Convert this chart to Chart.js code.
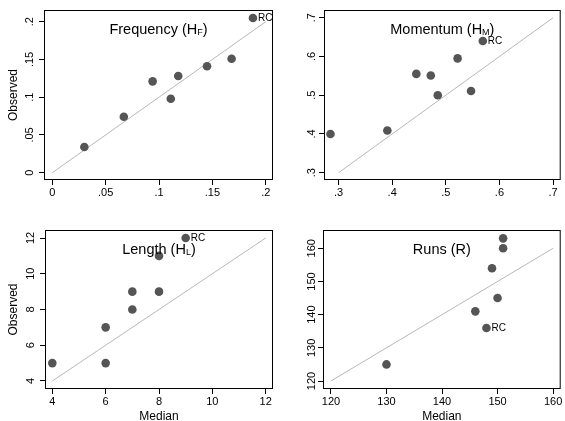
<!DOCTYPE html>
<html>
<head>
<meta charset="utf-8">
<script src="https://cdn.jsdelivr.net/npm/chart.js@4.4.1/dist/chart.umd.min.js"></script>
<style>
  html, body { margin: 0; padding: 0; background: #fff; }
  #wrap { position: relative; width: 565px; height: 421px; }
  canvas { position: absolute; }
</style>
</head>
<body>
<div id="wrap">
  <canvas id="c1" width="282" height="210" style="left:0;top:0"></canvas>
  <canvas id="c2" width="283" height="210" style="left:282px;top:0"></canvas>
  <canvas id="c3" width="282" height="211" style="left:0;top:210px"></canvas>
  <canvas id="c4" width="283" height="211" style="left:282px;top:210px"></canvas>
</div>
<script>
// values: median (x) vs observed (y)
const freqTicks = [0, 0.05, 0.1, 0.15, 0.2];
const freqMedian = [0.030, 0.067, 0.094, 0.111, 0.118, 0.145, 0.168, 0.188];
const freqObserved = [0.034, 0.074, 0.121, 0.098, 0.128, 0.141, 0.151, 0.205];

const momTicks = [0.3, 0.4, 0.5, 0.6, 0.7];
const momMedian = [0.285, 0.391, 0.445, 0.472, 0.485, 0.522, 0.547, 0.569];
const momObserved = [0.400, 0.409, 0.555, 0.551, 0.500, 0.595, 0.511, 0.640];

const lenTicks = [4, 6, 8, 10, 12];
const lenMedian = [4, 6, 6, 7, 7, 8, 8, 9];
const lenObserved = [5, 5, 7, 8, 9, 9, 11, 12];

const runTicks = [120, 130, 140, 150, 160];
const runMedian = [130, 146, 148, 149, 150, 151, 151];
const runObserved = [125, 141, 136, 154, 145, 160, 163];

// index of the point labelled "RC" in each panel
const rcIndex = [7, 7, 7, 2];

const FONT = '"Liberation Sans", Arial, Helvetica, sans-serif';
Chart.defaults.font.family = FONT;
Chart.defaults.color = '#000';

const fmt = v => String(v).replace(/^0\./, '.');

const panelDecor = {
  id: 'panelDecor',
  afterDatasetsDraw(chart, args, o) {
    const { ctx, chartArea: a, scales: { x, y } } = chart;
    ctx.save();
    ctx.strokeStyle = '#000';
    ctx.lineWidth = 1;
    ctx.strokeRect(a.left + 0.5, a.top + 0.5, a.right - a.left - 1, a.bottom - a.top - 1);

    // title with subscript
    const big = '14.5px ' + FONT, small = '9px ' + FONT;
    ctx.fillStyle = '#000';
    ctx.textBaseline = 'alphabetic';
    ctx.textAlign = 'left';
    ctx.font = big;
    const w1 = ctx.measureText(o.title).width;
    const w3 = ctx.measureText(o.end).width;
    ctx.font = small;
    const w2 = o.sub ? ctx.measureText(o.sub).width : 0;
    let tx = (a.left + a.right) / 2 - (w1 + w2 + w3) / 2;
    const ty = a.top + 23.5;
    ctx.font = big;
    ctx.fillText(o.title, tx, ty);
    tx += w1;
    if (o.sub) {
      ctx.font = small;
      ctx.fillText(o.sub, tx, ty + 1.5);
      tx += w2;
      ctx.font = big;
    }
    ctx.fillText(o.end, tx, ty);

    // RC label
    const pt = chart.data.datasets[0].data[o.rc];
    ctx.font = '10px ' + FONT;
    ctx.textBaseline = 'middle';
    ctx.fillText('RC', x.getPixelForValue(pt.x) + 5, y.getPixelForValue(pt.y));
    ctx.restore();
  }
};

function makePanel(id, p) {
  const ctx = document.getElementById(id);
  const pts = p.median.map((m, i) => ({ x: m, y: p.observed[i] }));
  const diag = [{ x: p.ticks[0], y: p.ticks[0] },
                { x: p.ticks[p.ticks.length - 1], y: p.ticks[p.ticks.length - 1] }];
  const setTicks = s => { s.ticks = p.ticks.map(v => ({ value: v })); };

  return new Chart(ctx, {
    type: 'scatter',
    data: {
      datasets: [
        { data: pts, pointRadius: 4.3, pointHoverRadius: 4.3,
          backgroundColor: '#555555', borderWidth: 0 },
        { type: 'line', data: diag, borderColor: '#b8b8b8', borderWidth: 1,
          pointRadius: 0, fill: false }
      ]
    },
    options: {
      responsive: false,
      animation: false,
      events: [],
      layout: { padding: { top: p.padTop, right: p.padRight, left: 0, bottom: 0 } },
      plugins: {
        legend: { display: false },
        tooltip: { enabled: false },
        panelDecor: { title: p.title, sub: p.sub, end: p.end, rc: p.rc }
      },
      scales: {
        x: {
          type: 'linear', min: p.xr[0], max: p.xr[1],
          afterBuildTicks: setTicks,
          afterFit: s => { s.height = p.xh; s.paddingLeft = 0; s.paddingRight = 0; },
          grid: { display: true, drawOnChartArea: false, drawTicks: true, tickLength: 5, color: '#000' },
          border: { display: false },
          ticks: { font: { size: 11 }, padding: 1, maxRotation: 0, autoSkip: false, callback: fmt },
          title: { display: !!p.xTitle, text: p.xTitle || '', font: { size: 12, lineHeight: 0.8 }, padding: 0 }
        },
        y: {
          type: 'linear', min: p.yr[0], max: p.yr[1],
          afterBuildTicks: setTicks,
          afterFit: s => { s.width = p.yw; s.paddingTop = 0; s.paddingBottom = 0; },
          grid: { display: true, drawOnChartArea: false, drawTicks: true, tickLength: 5, color: '#000' },
          border: { display: false },
          ticks: { font: { size: 11 }, padding: p.yPad, minRotation: 90, maxRotation: 90,
                   crossAlign: 'center', autoSkip: false, callback: fmt },
          title: { display: !!p.yTitle, text: p.yTitle || '', font: { size: 12 }, padding: { top: 6.5, bottom: 0 } }
        }
      }
    },
    plugins: [panelDecor]
  });
}

makePanel('c1', {
  median: freqMedian, observed: freqObserved, ticks: freqTicks,
  xr: [-0.0078, 0.2068], yr: [-0.0097, 0.2155],
  yw: 44, xh: 30, padTop: 10, padRight: 9, yPad: 1.4,
  title: 'Frequency (H', sub: 'F', end: ')', rc: rcIndex[0], yTitle: 'Observed'
});
makePanel('c2', {
  median: momMedian, observed: momObserved, ticks: momTicks,
  xr: [0.2729, 0.7142], yr: [0.2812, 0.7199],
  yw: 42, xh: 30, padTop: 10, padRight: 2, yPad: 2.4,
  title: 'Momentum (H', sub: 'M', end: ')', rc: rcIndex[1]
});
makePanel('c3', {
  median: lenMedian, observed: lenObserved, ticks: lenTicks,
  xr: [3.726, 12.274], yr: [3.552, 12.448],
  yw: 45, xh: 32, padTop: 20, padRight: 9, yPad: 2.6,
  title: 'Length (H', sub: 'L', end: ')', rc: rcIndex[2], xTitle: 'Median', yTitle: 'Observed'
});
makePanel('c4', {
  median: runMedian, observed: runObserved, ticks: runTicks,
  xr: [118.57, 161.37], yr: [117.59, 165.52],
  yw: 41, xh: 32, padTop: 20, padRight: 2, yPad: -3.2,
  title: 'Runs (R)', sub: '', end: '', rc: rcIndex[3], xTitle: 'Median'
});
</script>
</body>
</html>
